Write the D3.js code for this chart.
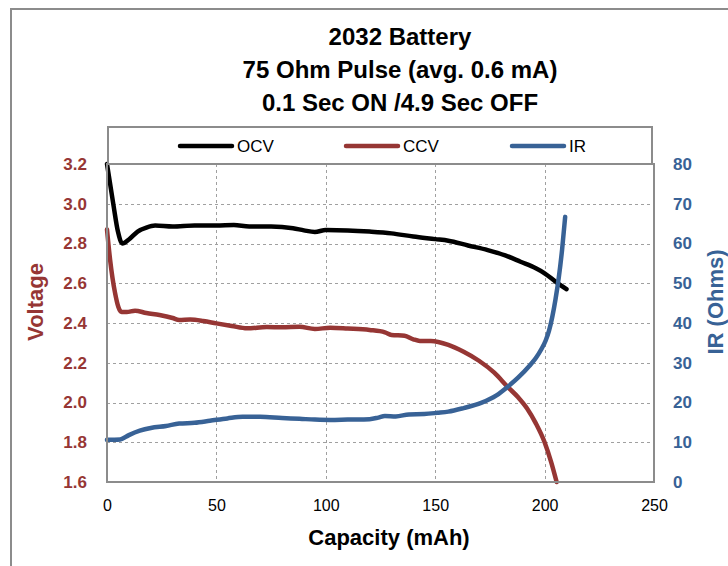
<!DOCTYPE html>
<html>
<head>
<meta charset="utf-8">
<script src="https://cdn.jsdelivr.net/npm/d3@7"></script>
<style>
  body { margin: 0; background: #fff; }
  svg { font-family: "Liberation Sans", Arial, sans-serif; }
</style>
</head>
<body>
<div id="d3-container"></div>
<script>
const width = 728,
  height = 566,
  margin = { top: 164, bottom: 84, left: 107, right: 75 };

const red = "#963634",
  blue = "#386296";

// values
const titleLines = ["2032 Battery", "75 Ohm Pulse (avg. 0.6 mA)", "0.1 Sec ON /4.9 Sec OFF"];
const seriesNames = ["OCV", "CCV", "IR"];

const xTicks = [0, 50, 100, 150, 200, 250];
const voltTicks = [1.6, 1.8, 2.0, 2.2, 2.4, 2.6, 2.8, 3.0, 3.2];
const irTicks = [0, 10, 20, 30, 40, 50, 60, 70, 80];

const ocvCap = [0, 3, 5, 7, 10, 14, 18, 22, 30, 40, 50, 58, 65, 75, 85, 90, 95, 100, 110, 120, 130, 140, 150, 156, 165, 174, 182, 189, 196, 200, 205, 210];
const ocvVolt = [3.2, 2.99, 2.86, 2.80, 2.82, 2.86, 2.88, 2.89, 2.885, 2.89, 2.89, 2.893, 2.885, 2.885, 2.877, 2.866, 2.858, 2.868, 2.866, 2.86, 2.851, 2.835, 2.822, 2.814, 2.79, 2.767, 2.74, 2.708, 2.675, 2.65, 2.608, 2.57];

const ccvCap = [0, 1.4, 3.7, 5.2, 6.7, 9, 12.8, 18, 24, 30, 33, 38, 44, 50, 57, 64, 73, 80, 88, 95, 102, 110, 120, 127, 130, 136, 140, 143, 148, 156, 163, 170, 177, 183, 188, 192, 196, 200, 203, 205.5];
const ccvVolt = [2.87, 2.72, 2.55, 2.48, 2.455, 2.455, 2.462, 2.45, 2.44, 2.425, 2.415, 2.417, 2.41, 2.398, 2.385, 2.373, 2.38, 2.378, 2.381, 2.37, 2.376, 2.372, 2.365, 2.353, 2.34, 2.336, 2.318, 2.31, 2.31, 2.29, 2.255, 2.21, 2.15, 2.08, 2.025, 1.97, 1.895, 1.8, 1.7, 1.6];

const irCap = [0, 6, 10, 15, 20, 27, 33, 40, 47, 55, 62, 70, 80, 88, 95, 102, 110, 120, 124, 127, 132, 138, 145, 151, 156, 163, 171, 178, 183, 188, 193, 196, 198.5, 200.5, 202, 203.5, 205, 206.5, 208, 209.4];
const irOhms = [10.6, 10.7, 11.8, 12.9, 13.6, 14.1, 14.7, 14.9, 15.4, 16.0, 16.4, 16.4, 16.1, 15.9, 15.7, 15.6, 15.7, 15.8, 16.2, 16.6, 16.5, 17.0, 17.1, 17.4, 17.7, 18.6, 19.9, 21.8, 23.9, 26.3, 29.2, 31.2, 33.4, 35.6, 38, 41.5, 46, 51.5, 58.5, 66.7];

const svg = d3.select("#d3-container")
  .append("svg")
  .attr("width", width)
  .attr("height", height);

// outer chart frame
svg.append("rect")
  .attr("x", 11).attr("y", 9)
  .attr("width", 760).attr("height", 600)
  .attr("fill", "none")
  .attr("stroke", "#8c8c8c")
  .attr("stroke-width", 2);

const xScale = d3.scaleLinear()
  .domain([0, 250])
  .range([margin.left, width - margin.right + 1]);

const yScale = d3.scaleLinear()
  .domain([1.6, 3.2])
  .range([height - margin.bottom, margin.top]);

const yScale2 = d3.scaleLinear()
  .domain([0, 80])
  .range([height - margin.bottom, margin.top]);

// title
svg.append("g")
  .selectAll("text")
  .data(titleLines)
  .join("text")
  .attr("x", 400)
  .attr("y", (d, i) => 45 + i * 33)
  .attr("text-anchor", "middle")
  .attr("font-size", 24)
  .attr("font-weight", "bold")
  .text(d => d);

// grid
const grid = svg.append("g")
  .attr("stroke", "#a0a0a0")
  .attr("stroke-width", 1)
  .attr("stroke-dasharray", "3,3");

grid.selectAll(".vgrid")
  .data(xTicks.slice(1, -1))
  .join("line")
  .attr("class", "vgrid")
  .attr("x1", d => Math.round(xScale(d)) + 0.5)
  .attr("x2", d => Math.round(xScale(d)) + 0.5)
  .attr("y1", yScale(3.2))
  .attr("y2", yScale(1.6));

grid.selectAll(".hgrid")
  .data(voltTicks.slice(1, -1))
  .join("line")
  .attr("class", "hgrid")
  .attr("x1", xScale(0))
  .attr("x2", xScale(250))
  .attr("y1", d => Math.round(yScale(d)) + 0.5)
  .attr("y2", d => Math.round(yScale(d)) + 0.5);

// axes
const xAxis = d3.axisBottom(xScale).tickValues(xTicks).tickSize(0).tickPadding(18);
const yAxis = d3.axisLeft(yScale).tickValues(voltTicks).tickSize(0).tickPadding(20).tickFormat(d3.format(".1f"));
const yAxis2 = d3.axisRight(yScale2).tickValues(irTicks).tickSize(0).tickPadding(19);

svg.append("g")
  .attr("transform", `translate(0,${height - margin.bottom})`)
  .call(xAxis)
  .call(g => g.select(".domain").remove())
  .selectAll("text")
  .attr("font-size", 16)
  .attr("font-family", "Liberation Sans, Arial, sans-serif")
  .attr("fill", "#000");

svg.append("g")
  .attr("transform", `translate(${margin.left},0)`)
  .call(yAxis)
  .call(g => g.select(".domain").remove())
  .selectAll("text")
  .attr("font-size", 17)
  .attr("font-weight", "bold")
  .attr("font-family", "Liberation Sans, Arial, sans-serif")
  .attr("fill", red);

svg.append("g")
  .attr("transform", `translate(${xScale(250)},0)`)
  .call(yAxis2)
  .call(g => g.select(".domain").remove())
  .selectAll("text")
  .attr("font-size", 17)
  .attr("font-weight", "bold")
  .attr("font-family", "Liberation Sans, Arial, sans-serif")
  .attr("fill", blue);

// axis titles
svg.append("text")
  .attr("x", 389)
  .attr("y", 545)
  .attr("text-anchor", "middle")
  .attr("font-size", 22)
  .attr("font-weight", "bold")
  .text("Capacity (mAh)");

svg.append("text")
  .attr("transform", "translate(43,302) rotate(-90)")
  .attr("text-anchor", "middle")
  .attr("font-size", 22)
  .attr("font-weight", "bold")
  .attr("fill", red)
  .text("Voltage");

svg.append("text")
  .attr("transform", "translate(723,302) rotate(-90)")
  .attr("text-anchor", "middle")
  .attr("font-size", 22)
  .attr("font-weight", "bold")
  .attr("fill", blue)
  .text("IR (Ohms)");

// series
const ocv = ocvCap.map((c, i) => [c, ocvVolt[i]]);
const ccv = ccvCap.map((c, i) => [c, ccvVolt[i]]);
const ir = irCap.map((c, i) => [c, irOhms[i]]);

const voltLine = d3.line()
  .x(d => xScale(d[0]))
  .y(d => yScale(d[1]))
  .curve(d3.curveMonotoneX);

const irLine = d3.line()
  .x(d => xScale(d[0]))
  .y(d => yScale2(d[1]))
  .curve(d3.curveMonotoneX);

const lines = svg.append("g")
  .attr("fill", "none")
  .attr("stroke-width", 4.5)
  .attr("stroke-linejoin", "round")
  .attr("stroke-linecap", "round");

lines.append("path").attr("d", voltLine(ocv)).attr("stroke", "#000");
lines.append("path").attr("d", voltLine(ccv)).attr("stroke", red);
lines.append("path").attr("d", irLine(ir)).attr("stroke", blue);

// plot border
svg.append("rect")
  .attr("x", xScale(0))
  .attr("y", yScale(3.2))
  .attr("width", xScale(250) - xScale(0))
  .attr("height", yScale(1.6) - yScale(3.2))
  .attr("fill", "none")
  .attr("stroke", "#8c8c8c")
  .attr("stroke-width", 2);

// legend
const legend = svg.append("g");
legend.append("rect")
  .attr("x", 108).attr("y", 127)
  .attr("width", 544).attr("height", 37)
  .attr("fill", "#fff")
  .attr("stroke", "#8c8c8c")
  .attr("stroke-width", 2);

const legendX = [180, 346, 512];
const legendColors = ["#000", red, blue];

const item = legend.selectAll(".item")
  .data(seriesNames)
  .join("g")
  .attr("class", "item")
  .attr("transform", (d, i) => `translate(${legendX[i]},146)`);

item.append("line")
  .attr("x1", 0).attr("x2", 52)
  .attr("stroke", (d, i) => legendColors[i])
  .attr("stroke-width", 4.5)
  .attr("stroke-linecap", "round");

item.append("text")
  .attr("x", 57)
  .attr("dy", "0.36em")
  .attr("font-size", 17)
  .text(d => d);
</script>
</body>
</html>
